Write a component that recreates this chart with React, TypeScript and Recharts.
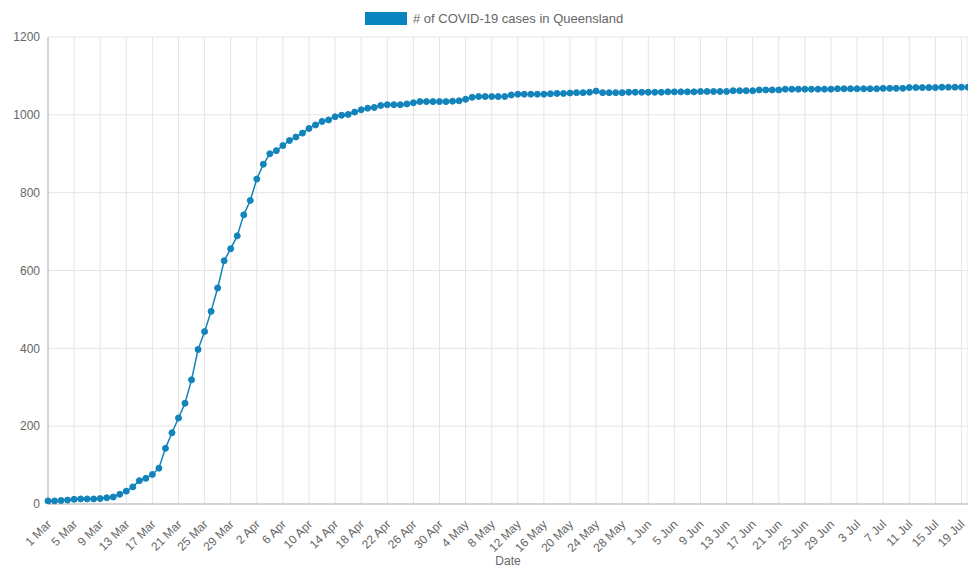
import { CartesianGrid, Legend, Line, LineChart, XAxis, YAxis } from "recharts"

const LINE_COLOR = "#1284bb"
const TEXT_COLOR = "#666"
const FONT = "'Liberation Sans', Arial, Helvetica, sans-serif"

// 1 Mar .. 20 Jul, one entry per day
const MONTHS: [string, number][] = [
  ["Mar", 31],
  ["Apr", 30],
  ["May", 31],
  ["Jun", 30],
  ["Jul", 20],
]
const DATES = MONTHS.flatMap(([m, n]) =>
  Array.from({ length: n }, (_, k) => `${k + 1} ${m}`)
)

const CASES = [
  8, 8, 9, 10, 12, 13, 13, 13, 14, 16,
  18, 25, 33, 44, 60, 66, 76, 92, 143, 183,
  221, 259, 319, 397, 443, 495, 555, 625, 656, 689,
  743, 780, 835, 873, 900, 908, 921, 934, 943, 953,
  965, 974, 983, 987, 995, 999, 1001, 1007, 1013, 1017,
  1019, 1024, 1026, 1026, 1026, 1028, 1031, 1034, 1034, 1034,
  1034, 1034, 1035, 1036, 1040, 1045, 1047, 1047, 1047, 1047,
  1047, 1051, 1053, 1053, 1053, 1053, 1053, 1054, 1055, 1055,
  1056, 1057, 1057, 1058, 1061, 1057, 1057, 1057, 1057, 1058,
  1058, 1058, 1058, 1058, 1058, 1059, 1059, 1059, 1059, 1059,
  1060, 1060, 1060, 1060, 1060, 1062, 1062, 1062, 1062, 1064,
  1064, 1064, 1064, 1066, 1066, 1066, 1066, 1066, 1066, 1066,
  1066, 1067, 1067, 1067, 1067, 1067, 1067, 1067, 1068, 1068,
  1068, 1068, 1070, 1070, 1070, 1070, 1070, 1071, 1071, 1071,
  1071, 1071,
]

const X_TICK_LABELS = [
  "1 Mar", "5 Mar", "9 Mar", "13 Mar", "17 Mar", "21 Mar", "25 Mar", "29 Mar",
  "2 Apr", "6 Apr", "10 Apr", "14 Apr", "18 Apr", "22 Apr", "26 Apr", "30 Apr",
  "4 May", "8 May", "12 May", "16 May", "20 May", "24 May", "28 May",
  "1 Jun", "5 Jun", "9 Jun", "13 Jun", "17 Jun", "21 Jun", "25 Jun", "29 Jun",
  "3 Jul", "7 Jul", "11 Jul", "15 Jul", "19 Jul",
]
const Y_TICKS = [0, 200, 400, 600, 800, 1000, 1200]

const rows = DATES.map((date, i) => ({ i, date, cases: CASES[i] }))
const xTicks = X_TICK_LABELS.map((l) => DATES.indexOf(l))

function DateTick(props: any) {
  const { x, y, payload } = props
  return (
    <g transform={`translate(${x + 1},${y + 10})`}>
      <text
        textAnchor="end"
        dy="0.35em"
        transform="rotate(-45)"
        fill={TEXT_COLOR}
        fontSize={12}
        fontFamily={FONT}
      >
        {DATES[payload.value]}
      </text>
    </g>
  )
}

function TopLegend() {
  return (
    <div
      style={{
        height: 37,
        display: "flex",
        alignItems: "flex-start",
        paddingLeft: 365,
        paddingTop: 12,
        boxSizing: "border-box",
        fontFamily: FONT,
        fontSize: 13,
        color: TEXT_COLOR,
      }}
    >
      <span
        style={{
          width: 42,
          height: 13,
          background: "#0a84bf",
          display: "inline-block",
          marginRight: 6,
        }}
      />
      <span style={{ lineHeight: "13px" }}># of COVID-19 cases in Queensland</span>
    </div>
  )
}

export default function App() {
  return (
    <div style={{ position: "absolute", left: 0, top: 0, background: "#fff" }}>
      <LineChart
        width={968}
        height={567}
        data={rows}
        margin={{ top: 0, right: 0, left: 0, bottom: 0 }}
      >
        <Legend
          verticalAlign="top"
          align="left"
          content={() => <TopLegend />}
          wrapperStyle={{ width: 968, height: 37 }}
        />
        <CartesianGrid stroke="#e5e5e5" />
        <XAxis
          type="number"
          dataKey="i"
          domain={[0, DATES.length - 1]}
          ticks={xTicks}
          interval={0}
          height={63}
          tick={<DateTick />}
          tickLine={false}
          axisLine={{ stroke: "#b5b5b5" }}
          label={{
            value: "Date",
            position: "insideBottom",
            offset: 2,
            fill: TEXT_COLOR,
            fontSize: 12,
            fontFamily: FONT,
          }}
        />
        <YAxis
          type="number"
          domain={[0, 1200]}
          ticks={Y_TICKS}
          width={48}
          tickLine={false}
          axisLine={{ stroke: "#b5b5b5" }}
          tick={{ fill: TEXT_COLOR, fontSize: 12, fontFamily: FONT }}
        />
        <Line
          type="linear"
          dataKey="cases"
          stroke={LINE_COLOR}
          strokeWidth={1.5}
          dot={{ r: 3, fill: LINE_COLOR, stroke: LINE_COLOR, strokeWidth: 1 }}
          activeDot={false}
          isAnimationActive={false}
        />
      </LineChart>
    </div>
  )
}
